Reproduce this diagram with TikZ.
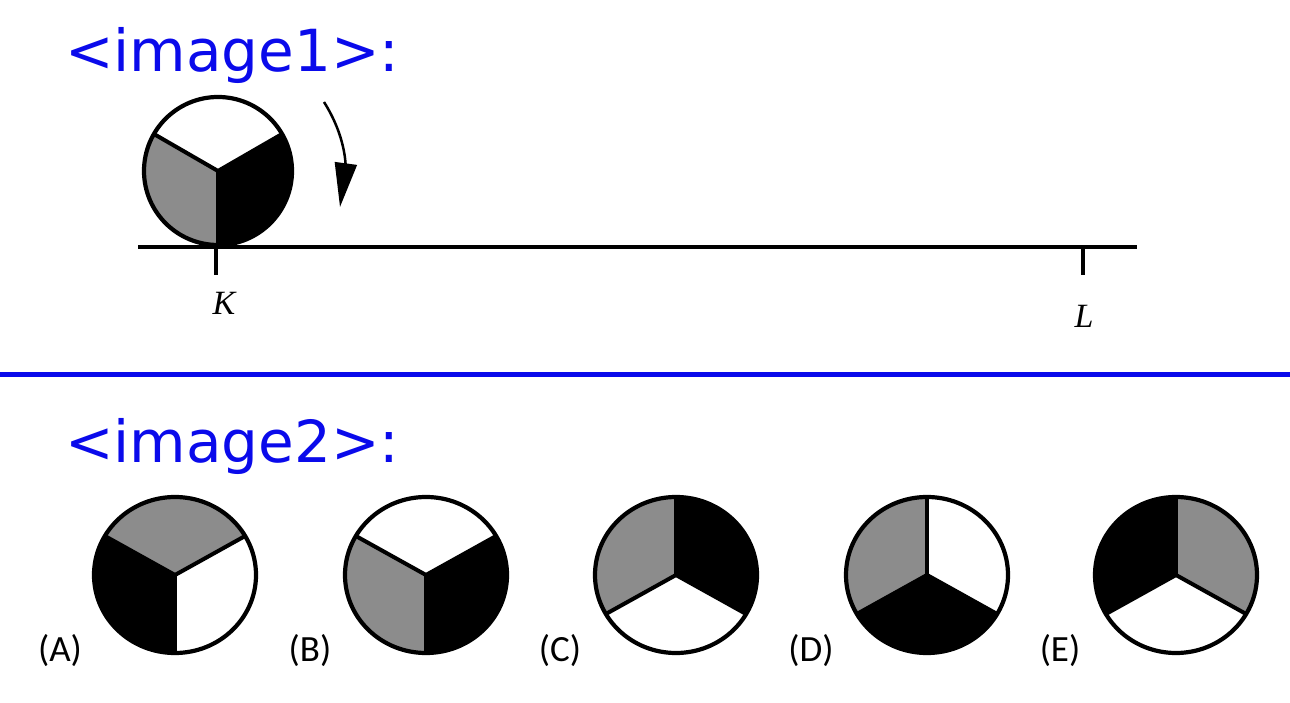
\documentclass[tikz,border=0pt]{standalone}
\usepackage{fontspec}
\usetikzlibrary{arrows.meta}
\newfontfamily\titlefont{DejaVu Sans}
\newfontfamily\labfont{Carlito}
\newfontfamily\serifit{Liberation Serif}[UprightFont=* Italic]
\definecolor{gry}{RGB}{140,140,140}
\definecolor{ttl}{RGB}{10,10,235}
\newcommand\mypie[8]{%
  \fill[#6] (#1,#2) -- ++(#5:#3 and #4) arc[start angle=#5, delta angle=120, x radius=#3, y radius=#4] -- cycle;
  \fill[#7] (#1,#2) -- ++(#5+120:#3 and #4) arc[start angle=#5+120, delta angle=120, x radius=#3, y radius=#4] -- cycle;
  \fill[#8] (#1,#2) -- ++(#5+240:#3 and #4) arc[start angle=#5+240, delta angle=120, x radius=#3, y radius=#4] -- cycle;
  \draw[spoke] (#1,#2) -- ++(#5:#3 and #4);
  \draw[spoke] (#1,#2) -- ++(#5+120:#3 and #4);
  \draw[spoke] (#1,#2) -- ++(#5+240:#3 and #4);
  \draw[rim] (#1,#2) ellipse[x radius=#3, y radius=#4];
}
\begin{document}
\begin{tikzpicture}[x=1pt,y=1pt,
  spoke/.style={line width=4pt,black},
  rim/.style={line width=4.2pt,black},
  title/.style={font=\titlefont\fontsize{58}{60}\selectfont, text=ttl, inner sep=0pt, anchor=base west},
  optlab/.style={font=\labfont\fontsize{37}{40}\selectfont, inner sep=0pt, anchor=base},
  ptlab/.style={font=\serifit\fontsize{34}{36}\selectfont, inner sep=0pt},
  ground/.style={line width=4pt}]
\useasboundingbox (0,0) rectangle (1290,702);
\fill[white] (0,0) rectangle (1290,702);
% titles
\node[title] (t1) at (65,630) {<image1>:};
\node[title] (t2) at (65,240) {<image2>:};
% separator
\draw[line width=5pt, ttl] (0,327) -- (1290,327);
% ground line and ticks
\coordinate (gl) at (138,455);
\coordinate (gr) at (1137,455);
\draw[ground] (gl) -- (gr);
\draw[ground] (216,455) -- (216,427);
\draw[ground] (1083,455) -- (1083,427);
\node[ptlab] (K) at (224,398.5) {K};
\node[ptlab] (L) at (1084,386) {L};
% wheel
\mypie{218}{531}{74}{74}{30}{white}{gry}{black}
% rotation arrow
\draw[line width=2.5pt, -{Triangle[length=44pt,width=22pt]}] (324,600) .. controls (348,562) and (345,532) .. (340,495);
% options
\mypie{175}{127}{81}{78}{30}{gry}{black}{white}
\mypie{426}{127}{81}{78}{30}{white}{gry}{black}
\mypie{676}{127}{81}{78}{90}{gry}{white}{black}
\mypie{927}{127}{81}{78}{90}{gry}{black}{white}
\mypie{1176}{127}{81}{78}{90}{black}{white}{gry}
\node[optlab] (A) at (60,41) {(A)};
\node[optlab] (B) at (310,41) {(B)};
\node[optlab] (C) at (560,41) {(C)};
\node[optlab] (D) at (811,41) {(D)};
\node[optlab] (E) at (1060,41) {(E)};
\end{tikzpicture}
\end{document}
